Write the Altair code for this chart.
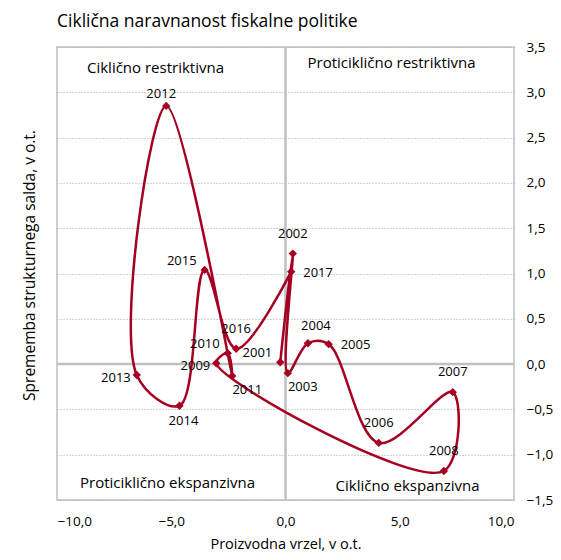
import altair as alt
import pandas as pd

years = [2001, 2002, 2003, 2004, 2005, 2006, 2007, 2008, 2009, 2010,
         2011, 2012, 2013, 2014, 2015, 2016, 2017]
output_gap = [-0.23, 0.32, 0.10, 0.98, 1.89, 4.08, 7.32, 6.93, -3.03, -2.53,
              -2.33, -5.22, -6.51, -4.64, -3.54, -2.16, 0.25]
balance_change = [0.02, 1.22, -0.10, 0.23, 0.22, -0.87, -0.31, -1.18, 0.01, 0.12,
                  -0.13, 2.85, -0.12, -0.46, 1.04, 0.17, 1.02]

labels_above = [2002, 2006, 2007, 2008, 2016]
labels_above_right = [2004]
labels_above_close = [2012]
labels_below = [2014]
labels_below_right = [2003, 2011]
labels_left_up = [2001, 2010, 2015]
labels_left = [2009, 2013]
labels_right = [2005, 2017]

quad_text = ["Ciklično restriktivna", "Proticiklično restriktivna",
             "Proticiklično ekspanzivna", "Ciklično ekspanzivna"]
quad_x = [-5.69, 4.64, -5.16, 5.34]
quad_y = [3.27, 3.32, -1.31, -1.35]

x_ticks = [-10, -5, 0, 5, 10]
y_ticks = [-1.5, -1.0, -0.5, 0.0, 0.5, 1.0, 1.5, 2.0, 2.5, 3.0, 3.5]

df = pd.DataFrame({"year": years, "gap": output_gap, "bal": balance_change})
df["label"] = df["year"].astype(str)
qdf = pd.DataFrame({"t": quad_text, "x": quad_x, "y": quad_y})

FONT = "Open Sans"
RED = "#A50021"
W, H = 457, 453

xs = alt.Scale(domain=[-10, 10], nice=False, zero=False)
ys = alt.Scale(domain=[-1.5, 3.5], nice=False, zero=False)
comma = "replace(format(datum.value, '.1f'), '.', ',')"

base = alt.Chart(df)
X = alt.X("gap:Q", scale=xs,
          axis=alt.Axis(values=x_ticks, labelExpr=comma, grid=False, ticks=False,
                        domain=False, labelPadding=14, labelFontSize=13.5,
                        labelFont=FONT, labelColor="#000",
                        title="Proizvodna vrzel, v o.t.", titleFont=FONT,
                        titleFontSize=14.5, titleFontWeight="normal",
                        titleColor="#000", titlePadding=10))
Y = alt.Y("bal:Q", scale=ys,
          axis=alt.Axis(orient="right", values=y_ticks, labelExpr=comma, grid=True,
                        gridDash=[1, 2], gridColor="#aaaaaa", gridWidth=1,
                        ticks=False, domain=False, labelPadding=12,
                        labelFontSize=13.5, labelFont=FONT, labelColor="#000",
                        title=None))

zero_h = alt.Chart(pd.DataFrame({"v": [0]})).mark_rule(color="#c0c0c0", strokeWidth=2.5).encode(
    y=alt.Y("v:Q", scale=ys))
zero_v = alt.Chart(pd.DataFrame({"v": [0]})).mark_rule(color="#c0c0c0", strokeWidth=2.5).encode(
    x=alt.X("v:Q", scale=xs))

line = base.mark_line(interpolate="catmull-rom", color=RED, strokeWidth=2.5).encode(
    x=X, y=Y, order="year:Q")
pts = base.mark_point(shape="diamond", filled=True, color=RED, size=70, opacity=1).encode(
    x=alt.X("gap:Q", scale=xs), y=alt.Y("bal:Q", scale=ys))


def lab(years_list, **kw):
    return base.transform_filter(
        alt.FieldOneOfPredicate(field="year", oneOf=years_list)
    ).mark_text(font=FONT, fontSize=13, color="#000", **kw).encode(
        x=alt.X("gap:Q", scale=xs), y=alt.Y("bal:Q", scale=ys), text="label:N")


labels = [
    lab(labels_above, dy=-20, align="center"),
    lab(labels_above_right, dx=8, dy=-17, align="center"),
    lab(labels_above_close, dx=-5, dy=-12, align="center"),
    lab(labels_below, dx=4, dy=15, align="center"),
    lab(labels_below_right, dx=15, dy=14, align="center"),
    lab(labels_left_up, dx=-8, dy=-9, align="right"),
    lab(labels_left, dx=-6, dy=3, align="right"),
    lab(labels_right, dx=12, dy=1, align="left"),
]

quads = alt.Chart(qdf).mark_text(font=FONT, fontSize=15, color="#000").encode(
    x=alt.X("x:Q", scale=xs), y=alt.Y("y:Q", scale=ys), text="t:N")

ytitle = alt.Chart(pd.DataFrame({"t": ["Sprememba strukturnega salda, v o.t."]})).mark_text(
    font=FONT, fontSize=15.5, color="#000", angle=270).encode(
    x=alt.value(-27), y=alt.value(H / 2 - 8), text="t:N")

chart = alt.layer(zero_h, zero_v, line, pts, *labels, quads, ytitle).properties(
    width=W, height=H,
    title=alt.TitleParams("Ciklična naravnanost fiskalne politike", anchor="start",
                          frame="group", font=FONT, fontSize=17.5, fontWeight="normal",
                          color="#000", offset=10),
    autosize=alt.AutoSizeParams(type="none"),
    padding={"left": 49, "top": 39, "right": 39, "bottom": 52},
).configure_view(stroke="#c0c0c0", strokeWidth=1.5)

chart.save("out.html", embed_options={"renderer": "svg", "actions": False})
